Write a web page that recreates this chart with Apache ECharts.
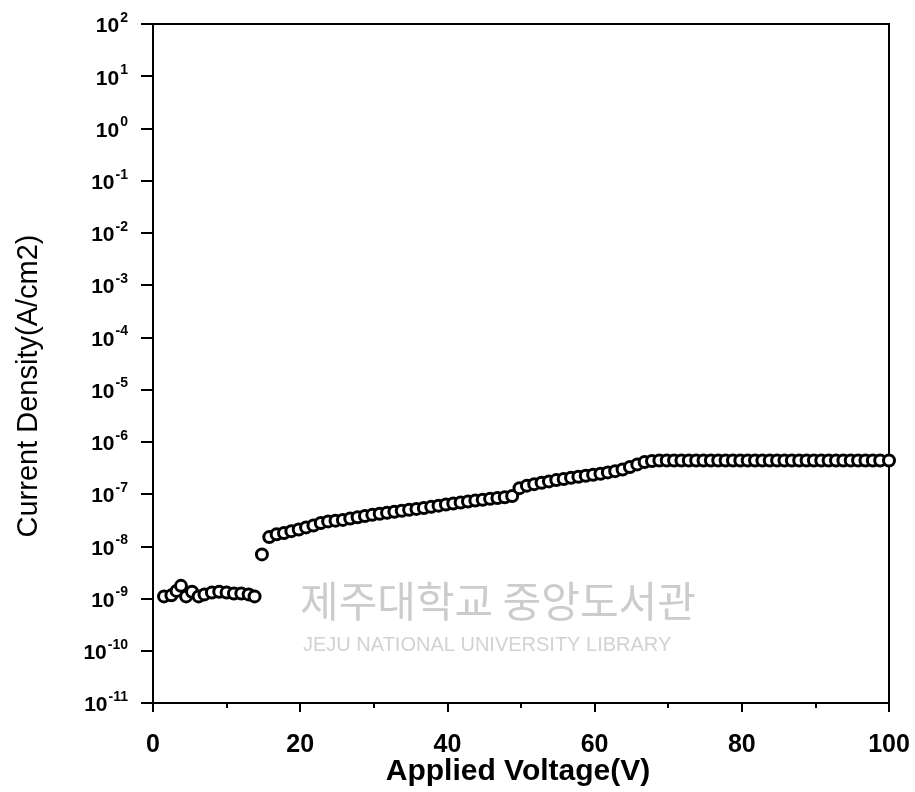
<!DOCTYPE html>
<html>
<head>
    <meta charset="utf-8">
    <title>Current Density</title>
    <script src="https://cdn.jsdelivr.net/npm/echarts@6/dist/echarts.min.js"></script>
</head>
<body style="margin:0;background:#fff;">
<div id="chart" style="width: 915px;height:792px;"></div>
<script type="text/javascript">
    // applied voltage (V)
    var voltage = [1.5, 2.5, 3.2, 3.8, 4.5, 5.3, 6.2, 7, 8, 9, 10, 11, 12, 13, 13.8,
        14.8, 15.8, 16.8, 17.8, 18.8, 19.8, 20.8, 21.8, 22.8, 23.8, 24.8, 25.8, 26.8, 27.8, 28.8,
        29.8, 30.8, 31.8, 32.8, 33.8, 34.8, 35.8, 36.8, 37.8, 38.8, 39.8, 40.8, 41.8, 42.8,
        43.8, 44.8, 45.8, 46.8, 47.8, 48.8, 49.8, 50.8, 51.8, 52.8, 53.8, 54.8, 55.8, 56.8,
        57.8, 58.8, 59.8, 60.8, 61.8, 62.8, 63.8, 64.8, 65.8, 66.8, 67.8, 68.8, 69.8, 70.8,
        71.8, 72.8, 73.8, 74.8, 75.8, 76.8, 77.8, 78.8, 79.8, 80.8, 81.8, 82.8, 83.8, 84.8,
        85.8, 86.8, 87.8, 88.8, 89.8, 90.8, 91.8, 92.8, 93.8, 94.8, 95.8, 96.8, 97.8, 98.8, 100];
    // current density (A/cm2)
    var density = [1.1e-9, 1.15e-9, 1.4e-9, 1.75e-9, 1.1e-9, 1.35e-9, 1.1e-9, 1.2e-9, 1.3e-9, 1.35e-9, 1.3e-9, 1.25e-9, 1.25e-9, 1.2e-9, 1.1e-9,
        7e-9, 1.5e-8, 1.7e-8, 1.8e-8, 1.95e-8, 2.1e-8, 2.3e-8, 2.5e-8, 2.8e-8, 3.0e-8, 3.1e-8, 3.2e-8, 3.4e-8, 3.6e-8, 3.8e-8,
        4.0e-8, 4.2e-8, 4.4e-8, 4.6e-8, 4.8e-8, 5.0e-8, 5.2e-8, 5.4e-8, 5.7e-8, 6.0e-8, 6.3e-8, 6.6e-8, 6.9e-8, 7.2e-8,
        7.5e-8, 7.8e-8, 8.1e-8, 8.4e-8, 8.7e-8, 9.2e-8, 1.3e-7, 1.45e-7, 1.55e-7, 1.65e-7, 1.75e-7, 1.85e-7, 1.95e-7, 2.05e-7,
        2.15e-7, 2.25e-7, 2.35e-7, 2.45e-7, 2.6e-7, 2.75e-7, 2.95e-7, 3.3e-7, 3.7e-7, 4.1e-7, 4.3e-7, 4.4e-7, 4.4e-7, 4.4e-7,
        4.4e-7, 4.4e-7, 4.4e-7, 4.4e-7, 4.4e-7, 4.4e-7, 4.4e-7, 4.4e-7, 4.4e-7, 4.4e-7, 4.4e-7, 4.4e-7, 4.4e-7, 4.4e-7,
        4.4e-7, 4.4e-7, 4.4e-7, 4.4e-7, 4.4e-7, 4.4e-7, 4.4e-7, 4.4e-7, 4.4e-7, 4.4e-7, 4.4e-7, 4.4e-7, 4.4e-7, 4.4e-7, 4.4e-7];
    var xTicks = [0, 20, 40, 60, 80, 100];

    var points = voltage.map(function (v, i) { return [v, density[i]]; });

    var myChart = echarts.init(document.getElementById('chart'));
    var font = '"Liberation Sans", Arial, sans-serif';
    var option = {
        backgroundColor: '#fff',
        animation: false,
        grid: {
            left: 153, right: 26, top: 24, bottom: 89,
            outerBoundsMode: 'none',
            containLabel: false,
            show: true, borderColor: '#000', borderWidth: 2
        },
        graphic: [
            {
                type: 'text', left: 300, top: 580, z: 0,
                style: { text: '제주대학교 중앙도서관', fill: '#cccccc', font: '42px "Noto Sans CJK KR"' }
            },
            {
                type: 'text', left: 303, top: 635, z: 0,
                style: { text: 'JEJU NATIONAL UNIVERSITY LIBRARY', fill: '#d2d2d2', font: '20px ' + font }
            },
            {
                // y axis title
                type: 'text', x: 29, y: 386, rotation: Math.PI / 2,
                style: {
                    text: 'Current Density(A/cm2)', fill: '#000', font: '29px ' + font,
                    align: 'center', verticalAlign: 'middle'
                }
            },
            {
                // x axis title
                type: 'text', x: 518, y: 772,
                style: {
                    text: 'Applied Voltage(V)', fill: '#000', font: 'bold 30px ' + font,
                    align: 'center', verticalAlign: 'middle'
                }
            }
        ],
        xAxis: {
            type: 'value', min: 0, max: 100, interval: 20,
            axisLine: { lineStyle: { color: '#000', width: 2 } },
            axisTick: { length: 9, lineStyle: { color: '#000', width: 2 } },
            minorTick: { show: true, splitNumber: 2, length: 5, lineStyle: { color: '#000', width: 2 } },
            splitLine: { show: false },
            axisLabel: {
                margin: 30, fontSize: 25, fontWeight: 'bold', fontFamily: font, color: '#000',
                customValues: xTicks
            }
        },
        yAxis: {
            type: 'log', logBase: 10, min: 1e-11, max: 1e2, interval: 1,
            axisLine: { lineStyle: { color: '#000', width: 2 } },
            axisTick: { length: 12, lineStyle: { color: '#000', width: 2 } },
            splitLine: { show: false },
            axisLabel: {
                margin: 25,
                formatter: function (v) {
                    var e = Math.round(Math.log10(v));
                    return '{b|10}{s|' + e + '}';
                },
                rich: {
                    b: { fontSize: 21, fontWeight: 'bold', fontFamily: font, color: '#000', lineHeight: 26, verticalAlign: 'bottom' },
                    s: { fontSize: 14, fontWeight: 'bold', fontFamily: font, color: '#000', lineHeight: 10, verticalAlign: 'top', padding: [0, 0, 0, 1] }
                }
            }
        },
        series: [{
            type: 'scatter',
            data: points,
            symbol: 'circle',
            symbolSize: 11,
            clip: false,
            itemStyle: { color: '#fff', borderColor: '#000', borderWidth: 3, opacity: 1 }
        }]
    };
    myChart.setOption(option);
</script>
</body>
</html>
